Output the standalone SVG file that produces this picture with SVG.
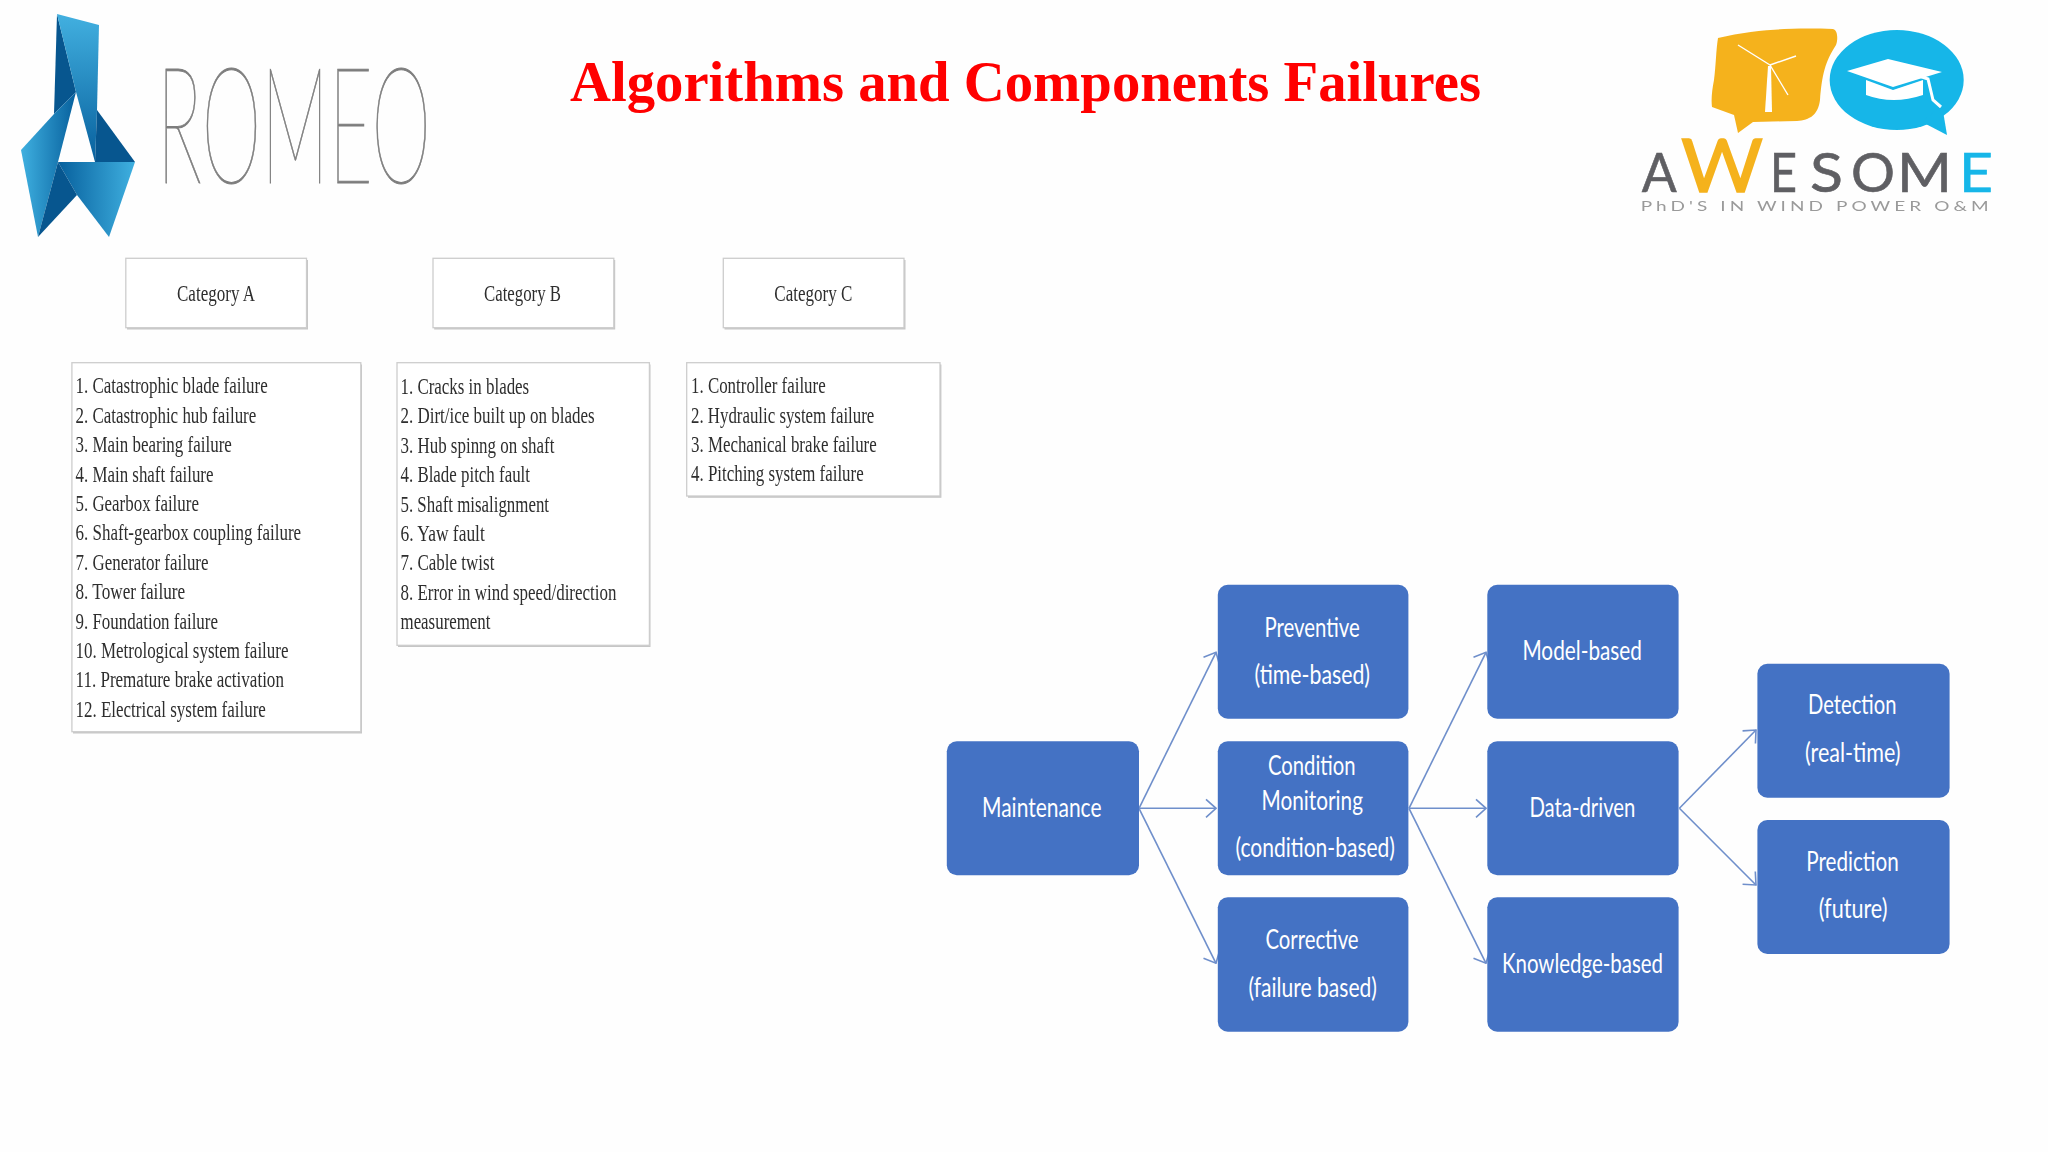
<svg xmlns="http://www.w3.org/2000/svg" width="2048" height="1152" viewBox="0 0 2048 1152">
<style>
.n{fill:#4472c4}
.nt{font-family:"Lato","Carlito","Liberation Sans",sans-serif;font-size:27px;fill:#fff}
.b{fill:#fff;stroke:#cdcdcd;stroke-width:1.3}
.s{fill:#c6c6c6}
.t{font-family:"Liberation Serif",serif;font-size:24px;fill:#2e2e2e}
.c{fill:none;stroke:#6f8fcb;stroke-width:1.6}
.a{font-family:"Lato","Open Sans",sans-serif;font-size:54px;font-weight:400;fill:#5f5f63}
</style>
<defs>
<marker id="arr" markerUnits="userSpaceOnUse" markerWidth="12" markerHeight="20" viewBox="0 0 12 20" refX="11" refY="10" orient="auto"><path d="M1,1 L11,10 L1,19" fill="none" stroke="#6f8fcb" stroke-width="1.6"/></marker>
<linearGradient id="g1" x1="0" y1="0" x2="1" y2="0"><stop offset="0" stop-color="#3fb0e0"/><stop offset="1" stop-color="#07609d"/></linearGradient>
<linearGradient id="g2" x1="0" y1="0" x2="1" y2="0"><stop offset="0" stop-color="#07609d"/><stop offset="1" stop-color="#3fb0e0"/></linearGradient>
<linearGradient id="g3" x1="0" y1="0" x2="0" y2="1"><stop offset="0" stop-color="#42b0e0"/><stop offset="1" stop-color="#07609d"/></linearGradient>
<filter id="soft" x="-5%" y="-5%" width="110%" height="110%"><feGaussianBlur stdDeviation="0.45"/></filter>
</defs>
<rect width="2048" height="1152" fill="#fefefe"/>

<g id="romeo-logo">
<polygon points="57,14 76,92 54,114" fill="#07568f"/>
<polygon points="57,14 99,25 97,110 95,162 76,92" fill="url(#g3)"/>
<polygon points="97,110 135,162 95,162" fill="#07568f"/>
<polygon points="58,162 135,162 109,237 77,195" fill="url(#g2)"/>
<polygon points="21,150 54,114 76,92 58,162 38,237" fill="url(#g1)"/>
<polygon points="58,162 77,195 38,237" fill="#07568f"/>
<text x="157" y="183" font-family="Lato,Inter,sans-serif" font-weight="100" font-size="163" fill="#7d7d7d" stroke="#7d7d7d" stroke-width="1" textLength="274" lengthAdjust="spacingAndGlyphs">ROMEO</text>
</g>

<g id="title"><text x="570" y="100.7" font-family="Liberation Serif,serif" font-weight="700" font-size="56" fill="#ff0000" textLength="911" lengthAdjust="spacingAndGlyphs">Algorithms and Components Failures</text></g>

<g id="awesome-logo" filter="url(#soft)">
<path d="M1718,38 C1760,28 1800,28 1833,29 C1838,30 1838,40 1836,45 C1825,62 1822,75 1820,100 C1818,115 1810,120 1797,121 L1753,122 L1738,133 L1734,115 L1712,107 C1711,100 1712,90 1714,80 C1716,65 1716,50 1718,38 Z" fill="#f5b21e"/>
<ellipse cx="1896.7" cy="80" rx="67" ry="50" fill="#14b6e8"/>
<polygon points="1922,122 1947,135 1942,105" fill="#14b6e8"/>
<polygon points="1765,112 1772,112 1771,66 1768,66" fill="#fff"/>
<path d="M1770,65 L1738,45 M1770,65 L1796,56 M1770,65 L1788,95" fill="none" stroke="#fff" stroke-width="1.4"/>
<polygon points="1847,71 1888,59 1942,72 1893,87" fill="#fff"/>
<path d="M1866,80 L1893,90 L1923,80 L1923,95 Q1893,105 1866,95 Z" fill="#fff"/>
<path d="M1895,68 L1928,79 L1933,100 L1941,107" fill="none" stroke="#fff" stroke-width="3"/>
<text class="a" x="1641.7" y="191.7" stroke="#5f5f63" stroke-width="0.6" textLength="35" lengthAdjust="spacingAndGlyphs">A</text>
<text class="a" x="1681" y="191.7" stroke="#f5b21e" stroke-width="1.5" style="font-size:74px;fill:#f5b21e" textLength="82" lengthAdjust="spacingAndGlyphs">W</text>
<text class="a" x="1770" y="191.7" stroke="#5f5f63" stroke-width="0.6" textLength="27" lengthAdjust="spacingAndGlyphs">E</text>
<text class="a" x="1810" y="191.7" stroke="#5f5f63" stroke-width="0.6" textLength="33" lengthAdjust="spacingAndGlyphs">S</text>
<text class="a" x="1851" y="191.7" stroke="#5f5f63" stroke-width="0.6" textLength="44" lengthAdjust="spacingAndGlyphs">O</text>
<text class="a" x="1897" y="191.7" stroke="#5f5f63" stroke-width="0.6" textLength="55" lengthAdjust="spacingAndGlyphs">M</text>
<text class="a" x="1959" y="191.7" stroke="#14b6e8" stroke-width="0.6" style="fill:#14b6e8" textLength="34" lengthAdjust="spacingAndGlyphs">E</text>
<text x="1640.7" y="210.5" font-family="Lato,sans-serif" font-size="14" fill="#9a9a9a" textLength="352" lengthAdjust="spacingAndGlyphs" letter-spacing="3">PhD'S IN WIND POWER O&amp;M</text>
</g>

<g id="categories" filter="url(#soft)">
<g id="cat-a"><rect class="s" x="127" y="260" width="181" height="69.5"/><rect class="b" x="125.8" y="258.3" width="180.7" height="69.4"/><text class="t" x="177" y="301" textLength="78" lengthAdjust="spacingAndGlyphs">Category A</text></g>
<g id="cat-b"><rect class="s" x="434.2" y="260" width="181" height="69.5"/><rect class="b" x="433" y="258.3" width="180.8" height="69.4"/><text class="t" x="484" y="301" textLength="77" lengthAdjust="spacingAndGlyphs">Category B</text></g>
<g id="cat-c"><rect class="s" x="724.5" y="260" width="181" height="69.5"/><rect class="b" x="723.3" y="258.3" width="180.7" height="69.4"/><text class="t" x="774.3" y="301" textLength="78" lengthAdjust="spacingAndGlyphs">Category C</text></g>
<g id="list-a"><rect class="s" x="73" y="364.5" width="289" height="369"/><rect class="b" x="71.9" y="362.7" width="288.9" height="369"/>
<text class="t" x="75.5" y="393.3" textLength="192.3" lengthAdjust="spacingAndGlyphs">1. Catastrophic blade failure</text>
<text class="t" x="75.5" y="422.7" textLength="180.8" lengthAdjust="spacingAndGlyphs">2. Catastrophic hub failure</text>
<text class="t" x="75.5" y="452.1" textLength="156.3" lengthAdjust="spacingAndGlyphs">3. Main bearing failure</text>
<text class="t" x="75.5" y="481.5" textLength="138" lengthAdjust="spacingAndGlyphs">4. Main shaft failure</text>
<text class="t" x="75.5" y="510.9" textLength="123.4" lengthAdjust="spacingAndGlyphs">5. Gearbox failure</text>
<text class="t" x="75.5" y="540.3" textLength="225.6" lengthAdjust="spacingAndGlyphs">6. Shaft-gearbox coupling failure</text>
<text class="t" x="75.5" y="569.7" textLength="133" lengthAdjust="spacingAndGlyphs">7. Generator failure</text>
<text class="t" x="75.5" y="599.1" textLength="109.6" lengthAdjust="spacingAndGlyphs">8. Tower failure</text>
<text class="t" x="75.5" y="628.5" textLength="142.5" lengthAdjust="spacingAndGlyphs">9. Foundation failure</text>
<text class="t" x="75.5" y="657.9" textLength="213" lengthAdjust="spacingAndGlyphs">10. Metrological system failure</text>
<text class="t" x="75.5" y="687.3" textLength="208.4" lengthAdjust="spacingAndGlyphs">11. Premature brake activation</text>
<text class="t" x="75.5" y="716.7" textLength="190.4" lengthAdjust="spacingAndGlyphs">12. Electrical system failure</text>
</g>
<g id="list-b"><rect class="s" x="398" y="364.5" width="252.5" height="282.5"/><rect class="b" x="397" y="362.7" width="252.4" height="282.6"/>
<text class="t" x="400.5" y="394" textLength="128.7" lengthAdjust="spacingAndGlyphs">1. Cracks in blades</text>
<text class="t" x="400.5" y="423.4" textLength="194.1" lengthAdjust="spacingAndGlyphs">2. Dirt/ice built up on blades</text>
<text class="t" x="400.5" y="452.8" textLength="153.9" lengthAdjust="spacingAndGlyphs">3. Hub spinng on shaft</text>
<text class="t" x="400.5" y="482.2" textLength="129.5" lengthAdjust="spacingAndGlyphs">4. Blade pitch fault</text>
<text class="t" x="400.5" y="511.6" textLength="148.5" lengthAdjust="spacingAndGlyphs">5. Shaft misalignment</text>
<text class="t" x="400.5" y="541" textLength="84.3" lengthAdjust="spacingAndGlyphs">6. Yaw fault</text>
<text class="t" x="400.5" y="570.4" textLength="93.9" lengthAdjust="spacingAndGlyphs">7. Cable twist</text>
<text class="t" x="400.5" y="599.8" textLength="215.9" lengthAdjust="spacingAndGlyphs">8. Error in wind speed/direction</text>
<text class="t" x="400.5" y="629.2" textLength="90" lengthAdjust="spacingAndGlyphs">measurement</text>
</g>
<g id="list-c"><rect class="s" x="688" y="364.5" width="253.4" height="133.3"/><rect class="b" x="686.7" y="362.7" width="253.3" height="133.3"/>
<text class="t" x="691" y="393.3" textLength="134.7" lengthAdjust="spacingAndGlyphs">1. Controller failure</text>
<text class="t" x="691" y="422.7" textLength="183.3" lengthAdjust="spacingAndGlyphs">2. Hydraulic system failure</text>
<text class="t" x="691" y="452.1" textLength="185.7" lengthAdjust="spacingAndGlyphs">3. Mechanical brake failure</text>
<text class="t" x="691" y="481" textLength="172.7" lengthAdjust="spacingAndGlyphs">4. Pitching system failure</text>
</g>
</g>

<g id="connectors">
<line class="c" x1="1139" y1="808.3" x2="1216" y2="652.3" marker-end="url(#arr)"/>
<line class="c" x1="1139" y1="808.3" x2="1216" y2="808.3" marker-end="url(#arr)"/>
<line class="c" x1="1139" y1="808.3" x2="1216" y2="963.3" marker-end="url(#arr)"/>
<line class="c" x1="1409" y1="808.3" x2="1486" y2="652.3" marker-end="url(#arr)"/>
<line class="c" x1="1409" y1="808.3" x2="1486" y2="808.3" marker-end="url(#arr)"/>
<line class="c" x1="1409" y1="808.3" x2="1486" y2="963.3" marker-end="url(#arr)"/>
<line class="c" x1="1679.4" y1="808.3" x2="1756" y2="730" marker-end="url(#arr)"/>
<line class="c" x1="1679.4" y1="808.3" x2="1756" y2="885" marker-end="url(#arr)"/>
</g>

<g id="maintenance"><rect class="n" x="946.8" y="741.3" width="192.2" height="134" rx="10"/><text class="nt" x="982" y="816.5" textLength="119.5" lengthAdjust="spacingAndGlyphs">Maintenance</text></g>
<g id="preventive"><rect class="n" x="1217.8" y="584.7" width="190.6" height="134" rx="10"/><text class="nt" x="1264.4" y="636.7" textLength="95.4" lengthAdjust="spacingAndGlyphs">Preventive</text><text class="nt" x="1254.5" y="684" textLength="115.5" lengthAdjust="spacingAndGlyphs">(time-based)</text></g>
<g id="condition"><rect class="n" x="1217.8" y="741.3" width="190.6" height="134" rx="10"/><text class="nt" x="1268" y="775" textLength="87.6" lengthAdjust="spacingAndGlyphs">Condition</text><text class="nt" x="1261.5" y="810" textLength="101.5" lengthAdjust="spacingAndGlyphs">Monitoring</text><text class="nt" x="1235.4" y="857.4" textLength="159.6" lengthAdjust="spacingAndGlyphs">(condition-based)</text></g>
<g id="corrective"><rect class="n" x="1217.8" y="897.3" width="190.6" height="134.4" rx="10"/><text class="nt" x="1265.4" y="949" textLength="93.2" lengthAdjust="spacingAndGlyphs">Corrective</text><text class="nt" x="1248.4" y="996.6" textLength="128.6" lengthAdjust="spacingAndGlyphs">(failure based)</text></g>
<g id="model-based"><rect class="n" x="1487.3" y="584.7" width="191.3" height="134" rx="10"/><text class="nt" x="1522.4" y="660" textLength="119.6" lengthAdjust="spacingAndGlyphs">Model-based</text></g>
<g id="data-driven"><rect class="n" x="1487.3" y="741.3" width="191.3" height="134" rx="10"/><text class="nt" x="1529.4" y="816.5" textLength="106" lengthAdjust="spacingAndGlyphs">Data-driven</text></g>
<g id="knowledge-based"><rect class="n" x="1487.3" y="897.3" width="191.3" height="134.4" rx="10"/><text class="nt" x="1502" y="972.7" textLength="161" lengthAdjust="spacingAndGlyphs">Knowledge-based</text></g>
<g id="detection"><rect class="n" x="1757.4" y="663.7" width="192.2" height="134" rx="10"/><text class="nt" x="1808" y="714" textLength="88.4" lengthAdjust="spacingAndGlyphs">Detection</text><text class="nt" x="1805" y="761.6" textLength="95.6" lengthAdjust="spacingAndGlyphs">(real-time)</text></g>
<g id="prediction"><rect class="n" x="1757.4" y="820" width="192.2" height="134" rx="10"/><text class="nt" x="1806.2" y="870.5" textLength="92.5" lengthAdjust="spacingAndGlyphs">Prediction</text><text class="nt" x="1818.7" y="917.8" textLength="68.8" lengthAdjust="spacingAndGlyphs">(future)</text></g>
</svg>
